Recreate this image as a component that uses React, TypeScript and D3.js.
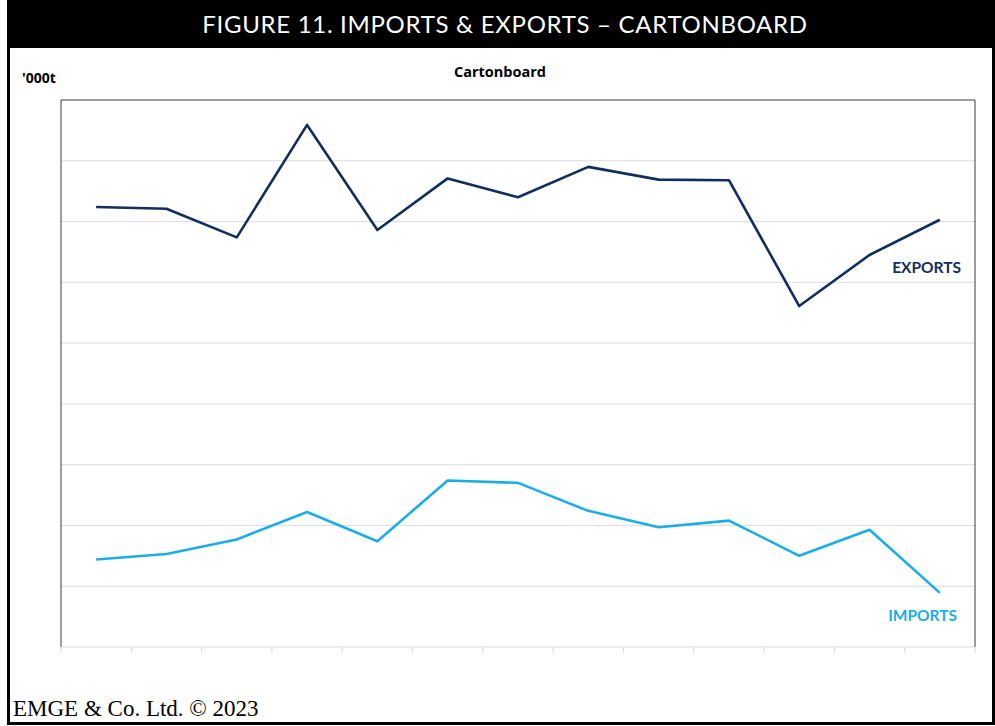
import * as d3 from "d3";
import { useEffect, useRef } from "react";

// x categories (labels are not shown in the original chart)
const years = ["2010", "2011", "2012", "2013", "2014", "2015", "2016", "2017", "2018", "2019", "2020", "2021", "2022"];
// '000t
const exportsVals = [724, 721, 674, 859, 686, 771, 740, 790, 769, 768, 561, 645, 703];
const importsVals = [144, 153, 177, 222, 174, 274, 270, 224, 197, 208, 150, 193, 89];
const yTicks = [0, 100, 200, 300, 400, 500, 600, 700, 800, 900];

const W = 995;
const H = 726;

const drawChart = (node: SVGSVGElement) => {
  const svg = d3.select(node);
  svg.selectAll("*").remove();

  const left = 61;
  const right = 975;
  const top = 100;
  const bottom = 647;

  // outer frame
  svg.append("rect")
    .attr("x", 8.5).attr("y", 1.5)
    .attr("width", 985).attr("height", 722)
    .attr("fill", "white")
    .attr("stroke", "black")
    .attr("stroke-width", 3);

  // title bar
  svg.append("rect")
    .attr("x", 7).attr("y", 0)
    .attr("width", 988).attr("height", 48)
    .attr("fill", "black");

  svg.append("text")
    .attr("x", 505).attr("y", 33)
    .attr("text-anchor", "middle")
    .attr("fill", "white")
    .style("font-family", "Lato, 'Open Sans', sans-serif")
    .style("font-size", "24px")
    .style("letter-spacing", "0.7px")
    .text("FIGURE 11. IMPORTS & EXPORTS \u2013 CARTONBOARD");

  const x = d3.scaleBand<string>().domain(years).range([left, right]);
  const y = d3.scaleLinear().domain([0, 900]).range([bottom, top]);

  // gridlines
  svg.append("g")
    .selectAll("line")
    .data(yTicks.slice(1, -1))
    .enter()
    .append("line")
    .attr("x1", left).attr("x2", right)
    .attr("y1", d => y(d)).attr("y2", d => y(d))
    .attr("stroke", "#dcdcdc")
    .attr("stroke-width", 1);

  // plot frame (top, left, right dark; bottom light axis)
  const frame = svg.append("g").attr("fill", "none").attr("stroke", "#3a3a3a").attr("stroke-width", 1);
  frame.append("line").attr("x1", left).attr("x2", left).attr("y1", top).attr("y2", bottom);
  frame.append("line").attr("x1", left).attr("x2", right).attr("y1", top).attr("y2", top);
  frame.append("line").attr("x1", right).attr("x2", right).attr("y1", top).attr("y2", bottom);

  svg.append("line")
    .attr("x1", left).attr("x2", right)
    .attr("y1", bottom).attr("y2", bottom)
    .attr("stroke", "#d9d9d9");

  const tickPos = years.map(d => x(d) as number).concat([right]);
  svg.append("g")
    .selectAll("line")
    .data(tickPos)
    .enter()
    .append("line")
    .attr("x1", d => d).attr("x2", d => d)
    .attr("y1", bottom).attr("y2", bottom + 6)
    .attr("stroke", "#d9d9d9");

  const cx = (d: string) => (x(d) as number) + x.bandwidth() / 2;

  const line = d3.line<number>()
    .x((_, i) => cx(years[i]))
    .y(d => y(d));

  svg.append("path")
    .datum(exportsVals)
    .attr("fill", "none")
    .attr("stroke", "#112e5f")
    .attr("stroke-width", 2.6)
    .attr("stroke-linejoin", "round")
    .attr("d", line);

  svg.append("path")
    .datum(importsVals)
    .attr("fill", "none")
    .attr("stroke", "#1aaee5")
    .attr("stroke-width", 2.6)
    .attr("stroke-linejoin", "round")
    .attr("d", line);

  const fontLabel = "Lato, 'Open Sans', sans-serif";
  const fontSmall = "'Open Sans', Lato, sans-serif";

  svg.append("text")
    .attr("x", 961).attr("y", 273)
    .attr("text-anchor", "end")
    .attr("fill", "#112e5f")
    .style("font-family", fontLabel)
    .style("font-weight", "bold")
    .style("font-size", "15.5px")
    .text("EXPORTS");

  svg.append("text")
    .attr("x", 957).attr("y", 621)
    .attr("text-anchor", "end")
    .attr("fill", "#1aaee5")
    .style("font-family", fontLabel)
    .style("font-weight", "bold")
    .style("font-size", "15.5px")
    .text("IMPORTS");

  svg.append("text")
    .attr("x", 22).attr("y", 83)
    .attr("fill", "black")
    .style("font-family", fontSmall)
    .style("font-weight", "bold")
    .style("font-size", "14px")
    .text("'000t");

  svg.append("text")
    .attr("x", 500).attr("y", 77)
    .attr("text-anchor", "middle")
    .attr("fill", "black")
    .style("font-family", fontSmall)
    .style("font-weight", "bold")
    .style("font-size", "14.5px")
    .text("Cartonboard");

  svg.append("text")
    .attr("x", 13).attr("y", 716)
    .attr("fill", "black")
    .style("font-family", "'Liberation Serif', 'DejaVu Serif', serif")
    .style("font-size", "23px")
    .text("EMGE & Co. Ltd. \u00a9 2023");
};

export default function App() {
  const ref = useRef<SVGSVGElement>(null);

  useEffect(() => {
    if (ref.current) drawChart(ref.current);
  }, []);

  return (
    <div style={{ position: "absolute", left: 0, top: 0 }}>
      <svg ref={ref} width={W} height={H} style={{ display: "block", background: "white" }} />
    </div>
  );
}
